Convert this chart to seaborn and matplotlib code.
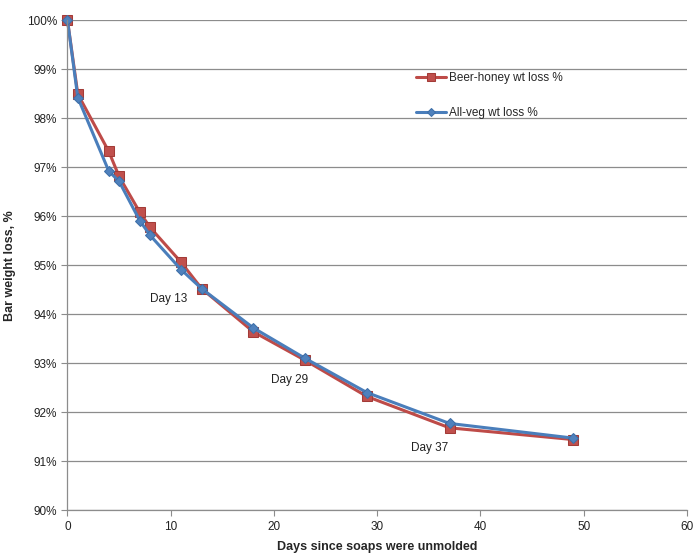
import pandas as pd
import matplotlib.pyplot as plt
import matplotlib.ticker as mticker
import seaborn as sns

# data
days = [0, 1, 4, 5, 7, 8, 11, 13, 18, 23, 29, 37, 49]
beer_honey = [100.0, 98.49, 97.32, 96.81, 96.08, 95.77, 95.06, 94.52, 93.64, 93.06, 92.32, 91.68, 91.44]
all_veg = [100.0, 98.42, 96.92, 96.71, 95.91, 95.61, 94.91, 94.52, 93.72, 93.10, 92.40, 91.77, 91.47]

notes = ["Day 13", "Day 29", "Day 37"]
note_x = [9.8, 21.5, 35.1]
note_y = [94.30, 92.65, 91.26]

df = pd.DataFrame({"days": days, "beer": beer_honey, "veg": all_veg})

sns.set_style("white")
plt.rcParams["font.family"] = ["Liberation Sans", "DejaVu Sans"]

fig = plt.figure(figsize=(7, 5.6), dpi=100)
ax = fig.add_axes([0.0964, 0.089, 0.885, 0.875])

sns.lineplot(data=df, x="days", y="beer", ax=ax, color="#BE4B48", linewidth=2.2,
             marker="s", markersize=7, markerfacecolor="#C0504D",
             markeredgecolor="#A33B37", label="Beer-honey wt loss %", clip_on=False)
sns.lineplot(data=df, x="days", y="veg", ax=ax, color="#4A7EBB", linewidth=2.2,
             marker="D", markersize=5, markerfacecolor="#4F81BD",
             markeredgecolor="#3E6FA8", label="All-veg wt loss %", clip_on=False)

for t, x, y in zip(notes, note_x, note_y):
    ax.text(x, y, t, fontsize=8.5, ha="center", va="center", color="#222222")

ax.set_xlim(0, 60)
ax.set_ylim(90, 100)
ax.xaxis.set_major_locator(mticker.MultipleLocator(10))
ax.yaxis.set_major_locator(mticker.MultipleLocator(1))
ax.yaxis.set_major_formatter(mticker.FuncFormatter(lambda v, p: f"{v:.0f}%"))
ax.yaxis.grid(True, color="#8C8C8C", linewidth=0.9)
ax.xaxis.grid(False)
ax.set_axisbelow(True)

for s in ["top", "right"]:
    ax.spines[s].set_visible(False)
for s in ["left", "bottom"]:
    ax.spines[s].set_color("#8C8C8C")
    ax.spines[s].set_linewidth(0.9)
ax.tick_params(axis="both", direction="out", length=4, color="#8C8C8C",
               labelsize=8.5, labelcolor="#222222", bottom=True, left=True)

ax.set_xlabel("Days since soaps were unmolded", fontsize=9, fontweight="bold", labelpad=6)
ax.set_ylabel("Bar weight loss, %", fontsize=9, fontweight="bold", labelpad=8)

ax.legend(loc="upper left", bbox_to_anchor=(0.545, 0.915), frameon=False,
          fontsize=8.5, handlelength=2.6, labelspacing=1.9, handletextpad=0.2,
          markerscale=0.8)

plt.savefig("out.png", dpi=100)
